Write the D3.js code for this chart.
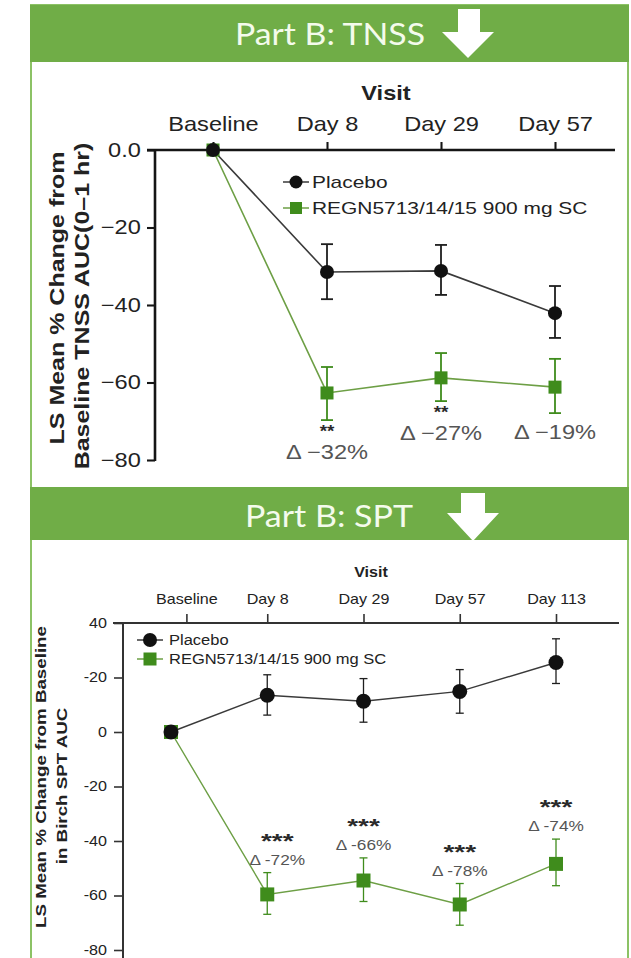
<!DOCTYPE html>
<html>
<head>
<meta charset="utf-8">
<script src="https://d3js.org/d3.v7.min.js"></script>
<style>
  body { margin: 0; background: #fff; }
  svg text { font-family: "Liberation Sans", Arial, sans-serif; }
</style>
</head>
<body>
<script>
// ---- Part B: TNSS ----
var tnssVisits = ["Baseline", "Day 8", "Day 29", "Day 57"];
var tnssYTicks = [0, -20, -40, -60, -80];
var tnssYLabels = ["0.0", "\u221220", "\u221240", "\u221260", "\u221280"];
var tnssPlacebo = [0, -31.5, -31.2, -42.1];
var tnssPlaceboHi = [0, -24.3, -24.5, -35.1];
var tnssPlaceboLo = [0, -38.5, -37.4, -48.5];
var tnssActive = [0, -62.7, -58.8, -61.2];
var tnssActiveHi = [0, -56.0, -52.4, -53.9];
var tnssActiveLo = [0, -69.7, -64.8, -67.9];
var tnssStars = ["", "**", "**", ""];
var tnssDelta = ["", "\u0394 \u221232%", "\u0394 \u221227%", "\u0394 \u221219%"];

// ---- Part B: SPT ----
var sptVisits = ["Baseline", "Day 8", "Day 29", "Day 57", "Day 113"];
var sptYTicks = [40, 20, 0, -20, -40, -60, -80];
var sptYLabels = ["40", "-20", "0", "-20", "-40", "-60", "-80"];
var sptPlacebo = [0, 13.5, 11.3, 14.9, 25.5];
var sptPlaceboHi = [0, 21.0, 19.6, 22.9, 34.2];
var sptPlaceboLo = [0, 6.2, 3.6, 6.9, 17.8];
var sptActive = [0, -59.6, -54.5, -63.3, -48.4];
var sptActiveHi = [0, -51.6, -46.2, -55.6, -39.3];
var sptActiveLo = [0, -66.9, -62.2, -70.9, -56.4];
var sptStars = ["", "***", "***", "***", "***"];
var sptDelta = ["", "\u0394 -72%", "\u0394 -66%", "\u0394 -78%", "\u0394 -74%"];

var seriesNames = ["Placebo", "REGN5713/14/15 900 mg SC"];

var GREEN = "#70ad47", FRAME = "#8cc265";
var DARK = "#1e1e1e", MARK_GREEN = "#3f8c1c", LINE_GREEN = "#6d9f45";

var svg = d3.select("body").append("svg")
    .attr("width", 631)
    .attr("height", 958);

// text stretched along its reading direction (the figure's font is wide)
function txt(g, x, y, s, o) {
    o = o || {};
    return g.append("text")
        .attr("transform", "translate(" + x + "," + y + ")" + (o.rotate ? " rotate(-90)" : "") +
              " scale(" + (o.sx || 1.2) + ",1)")
        .attr("text-anchor", o.anchor || "middle")
        .attr("font-size", o.size || 14)
        .attr("font-weight", o.bold ? "bold" : null)
        .attr("fill", o.color || "#222")
        .text(s);
}

// frame + headers
svg.append("rect").attr("x", 31).attr("y", 5).attr("width", 597).attr("height", 960)
    .attr("fill", "#fff").attr("stroke", FRAME).attr("stroke-width", 2);

function header(y, h, title, tx, tw, base, arrow) {
    svg.append("rect").attr("x", 30).attr("y", y).attr("width", 599).attr("height", h).attr("fill", GREEN);
    svg.append("text")
        .attr("x", tx).attr("y", base)
        .attr("text-anchor", "middle")
        .attr("font-size", 30)
        .attr("textLength", tw).attr("lengthAdjust", "spacingAndGlyphs")
        .style("font-family", "Lato, 'Open Sans', sans-serif")
        .attr("fill", "#f4fbec")
        .text(title);
    var a = arrow;
    svg.append("path")
        .attr("d", "M" + a.s0 + "," + a.top + "H" + a.s1 + "V" + a.neck + "H" + a.h1 +
                   "L" + a.tip + "," + a.bottom + "L" + a.h0 + "," + a.neck + "H" + a.s0 + "Z")
        .attr("fill", "#fff");
}
header(5, 57, "Part B: TNSS", 330, 190, 45,
    {s0: 458, s1: 480, top: 9, neck: 32, h0: 442, h1: 494, tip: 468, bottom: 58});
header(487, 53, "Part B: SPT", 329, 168, 527,
    {s0: 461, s1: 485, top: 493, neck: 513, h0: 447, h1: 499, tip: 473, bottom: 541});

function drawPanel(p) {
    var g = svg.append("g");
    var x = p.x, y = p.y;
    var y0 = y(p.yTicks[0]);

    // x axis on top
    var gx = g.append("g")
        .attr("transform", "translate(0," + y0 + ")")
        .call(d3.axisTop(x).tickValues(p.tickPos)
            .tickFormat(function(d, i) { return p.visits[i]; })
            .tickSize(p.tick).tickPadding(p.xPad));
    gx.select(".domain").remove();
    gx.selectAll("line").attr("stroke", p.axisColor).attr("stroke-width", p.axisW * 0.8);
    gx.selectAll("text").attr("font-size", p.tickFont).attr("fill", "#222")
        .attr("transform", "scale(" + p.sx + ",1)");
    g.append("line").attr("x1", p.xStart).attr("x2", p.xEnd).attr("y1", y0).attr("y2", y0)
        .attr("stroke", p.axisColor).attr("stroke-width", p.axisW);

    // y axis
    var gy = g.append("g")
        .attr("transform", "translate(" + p.axisX + ",0)")
        .call(d3.axisLeft(y).tickValues(p.yTicks)
            .tickFormat(function(d, i) { return p.yLabels[i]; })
            .tickSize(p.tick).tickPadding(p.yPad));
    gy.select(".domain").remove();
    gy.selectAll("line").attr("stroke", p.axisColor).attr("stroke-width", p.axisW * 0.8);
    gy.selectAll("text").attr("font-size", p.tickFont).attr("fill", "#222")
        .attr("transform", "scale(" + p.sx + ",1)");
    g.append("line").attr("x1", p.axisX).attr("x2", p.axisX).attr("y1", y0).attr("y2", p.yEnd)
        .attr("stroke", p.axisColor).attr("stroke-width", p.axisW);

    // titles
    txt(g, p.visitPos[0], p.visitPos[1], "Visit", {size: p.visitFont, bold: true, sx: p.sx});
    p.yTitle.forEach(function(t, i) {
        txt(g, p.yTitlePos[i][0], p.yTitlePos[i][1], t, {size: p.yTitleFont, bold: true, rotate: true, sx: 1.25});
    });

    var series = [
        {vals: p.active, hi: p.activeHi, lo: p.activeLo, line: LINE_GREEN, err: MARK_GREEN, mark: MARK_GREEN, shape: "square"},
        {vals: p.placebo, hi: p.placeboHi, lo: p.placeboLo, line: "#3a3a3a", err: DARK, mark: "#111", shape: "circle"}
    ];
    var line = d3.line().x(function(d, i) { return x(i); }).y(function(d) { return y(d); });

    series.forEach(function(s) {
        g.append("path").datum(s.vals).attr("d", line)
            .attr("fill", "none").attr("stroke", s.line).attr("stroke-width", p.lineW);
    });
    series.forEach(function(s) {
        var idx = d3.range(s.vals.length).filter(function(i) { return s.hi[i] !== s.lo[i]; });
        var eb = g.append("g").attr("stroke", s.err).attr("stroke-width", p.errW);
        eb.selectAll(".v").data(idx).enter().append("line")
            .attr("x1", function(i) { return x(i); }).attr("x2", function(i) { return x(i); })
            .attr("y1", function(i) { return y(s.hi[i]); }).attr("y2", function(i) { return y(s.lo[i]); });
        [s.hi, s.lo].forEach(function(b) {
            eb.selectAll(null).data(idx).enter().append("line")
                .attr("x1", function(i) { return x(i) - p.cap; }).attr("x2", function(i) { return x(i) + p.cap; })
                .attr("y1", function(i) { return y(b[i]); }).attr("y2", function(i) { return y(b[i]); });
        });
    });
    series.forEach(function(s) {
        var m = g.selectAll(null).data(s.vals).enter();
        if (s.shape === "circle") {
            m.append("circle").attr("cx", function(d, i) { return x(i); }).attr("cy", function(d) { return y(d); })
                .attr("r", p.r).attr("fill", s.mark);
        } else {
            m.append("rect").attr("x", function(d, i) { return x(i) - p.sq / 2; })
                .attr("y", function(d) { return y(d) - p.sq / 2; })
                .attr("width", p.sq).attr("height", p.sq).attr("fill", s.mark);
        }
    });

    // legend
    [series[1], series[0]].forEach(function(s, k) {
        var ly = p.legend.y + k * p.legend.dy, lx = p.legend.x;
        g.append("line").attr("x1", lx - 13).attr("x2", lx + 13).attr("y1", ly).attr("y2", ly)
            .attr("stroke", s.line).attr("stroke-width", 1.5);
        if (s.shape === "circle") {
            g.append("circle").attr("cx", lx).attr("cy", ly).attr("r", p.r - 0.5).attr("fill", s.mark);
        } else {
            g.append("rect").attr("x", lx - p.sq / 2 + 0.5).attr("y", ly - p.sq / 2 + 0.5)
                .attr("width", p.sq - 1).attr("height", p.sq - 1).attr("fill", s.mark);
        }
        txt(g, p.legend.tx, ly + p.legend.size * 0.36, seriesNames[k],
            {size: p.legend.size, anchor: "start", sx: p.legend.sx});
    });

    // significance + deltas
    p.delta.forEach(function(d, i) {
        if (!d) return;
        var a = p.annot(i);
        if (p.stars[i]) txt(g, x(i) + a.dx, a.starY, p.stars[i], {size: p.starFont, bold: true, color: "#2a2a2a", sx: p.starSx});
        txt(g, x(i) + a.dx, a.deltaY, d, {size: p.deltaFont, color: "#555", sx: p.sx});
    });
}

// top panel
var xT = d3.scaleLinear().domain([0, 3]).range([213, 555]);
var yT = d3.scaleLinear().domain([0, -80]).range([150, 460]);
drawPanel({
    x: xT, y: yT, tickPos: [0, 1, 2, 3], visits: tnssVisits,
    yTicks: tnssYTicks, yLabels: tnssYLabels,
    axisX: 155, xStart: 147, xEnd: 615, yEnd: 461,
    tick: 8, xPad: 11, yPad: 4, tickFont: 20, sx: 1.18,
    axisColor: "#151515", axisW: 2.6,
    visitPos: [386, 100], visitFont: 20,
    yTitle: ["LS Mean % Change from", "Baseline TNSS AUC(0\u20131 hr)"],
    yTitlePos: [[64, 298], [89, 306]], yTitleFont: 20,
    placebo: tnssPlacebo, placeboHi: tnssPlaceboHi, placeboLo: tnssPlaceboLo,
    active: tnssActive, activeHi: tnssActiveHi, activeLo: tnssActiveLo,
    lineW: 1.6, errW: 1.8, cap: 6, r: 7, sq: 13,
    legend: {x: 296, y: 182, dy: 26, tx: 312, size: 17, sx: 1.23},
    stars: tnssStars, delta: tnssDelta, starFont: 16, starSx: 1.18, deltaFont: 20,
    annot: function(i) {
        var b = yT(tnssActiveLo[i]);
        return tnssStars[i] ? {dx: 0, starY: b + 17, deltaY: b + 39} : {dx: 0, deltaY: b + 26};
    }
});

// bottom panel
var xB = d3.scaleLinear().domain([0, 4]).range([171, 556]);
var yB = d3.scaleLinear().domain([40, -80]).range([623, 950]);
drawPanel({
    x: xB, y: yB, tickPos: [0.16, 1, 2, 3, 4], visits: sptVisits,
    yTicks: sptYTicks, yLabels: sptYLabels,
    axisX: 123, xStart: 113, xEnd: 619, yEnd: 960,
    tick: 9, xPad: 10, yPad: 5, tickFont: 14, sx: 1.15,
    axisColor: "#333", axisW: 2,
    visitPos: [371, 577], visitFont: 14,
    yTitle: ["LS Mean % Change from Baseline", "in Birch SPT AUC"],
    yTitlePos: [[46, 777], [67, 786]], yTitleFont: 15,
    placebo: sptPlacebo, placeboHi: sptPlaceboHi, placeboLo: sptPlaceboLo,
    active: sptActive, activeHi: sptActiveHi, activeLo: sptActiveLo,
    lineW: 1.4, errW: 1.3, cap: 4, r: 7.5, sq: 14,
    legend: {x: 150, y: 640, dy: 19, tx: 169, size: 15, sx: 1.1},
    stars: sptStars, delta: sptDelta, starFont: 20, starSx: 1.4, deltaFont: 15,
    annot: function(i) {
        var t = yB(sptActiveHi[i]);
        return {dx: i === 1 ? 10 : 0, starY: t - 25, deltaY: t - 8};
    }
});
</script>
</body>
</html>
